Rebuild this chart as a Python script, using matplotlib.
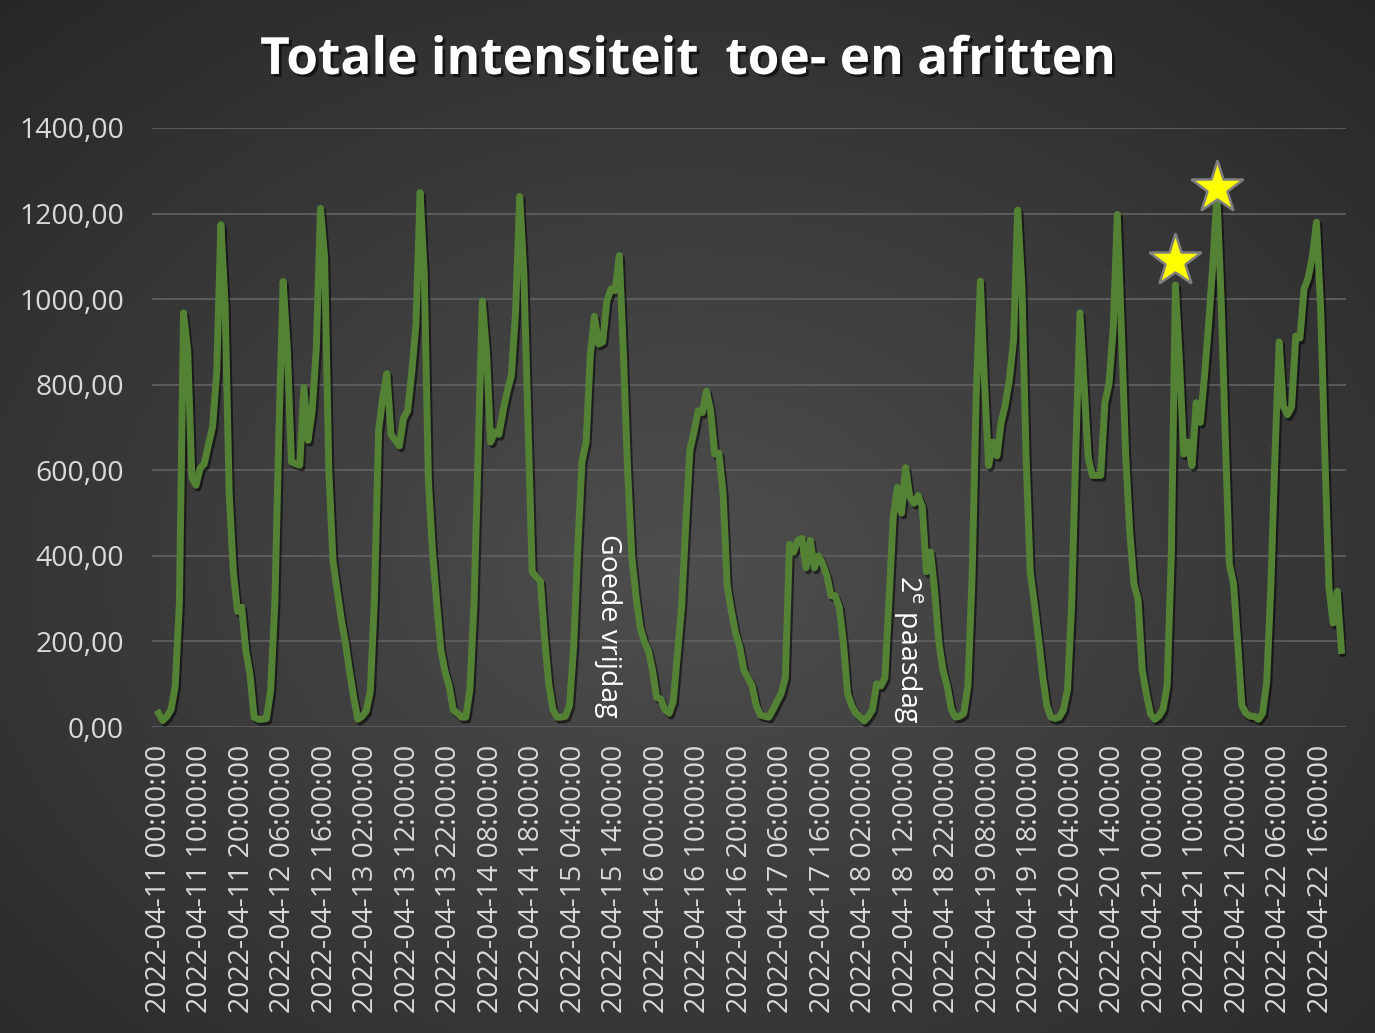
import numpy as np
import pandas as pd
import matplotlib
matplotlib.use("Agg")
import matplotlib.pyplot as plt
import matplotlib.patheffects as pe

plt.rcParams['font.family'] = ['Open Sans', 'DejaVu Sans']
plt.rcParams['mathtext.fontset'] = 'custom'
plt.rcParams['mathtext.rm'] = 'Open Sans'

apr11 = [32, 15, 25, 41, 96, 290, 968, 881, 583, 565, 605, 615, 660, 702, 830, 1174, 990, 546, 362, 270, 280, 179, 124, 23]
apr12 = [18, 18, 20, 87, 289, 700, 1041, 886, 620, 615, 612, 794, 670, 739, 886, 1212, 1097, 600, 390, 320, 252, 197, 130, 69]
apr13 = [18, 25, 37, 83, 300, 693, 770, 826, 684, 670, 657, 721, 739, 830, 941, 1249, 1060, 574, 409, 290, 180, 130, 96, 40]
apr14 = [32, 23, 23, 87, 289, 650, 996, 877, 666, 690, 684, 739, 785, 822, 969, 1240, 1060, 712, 363, 350, 340, 207, 100, 41]
apr15 = [23, 23, 25, 50, 188, 420, 620, 666, 868, 960, 895, 900, 996, 1024, 1020, 1102, 870, 600, 400, 307, 234, 200, 179, 133]
apr16 = [69, 65, 40, 32, 60, 170, 280, 470, 647, 690, 739, 735, 785, 739, 638, 640, 546, 330, 271, 220, 188, 133, 115, 96]
apr17 = [50, 28, 25, 23, 40, 60, 78, 115, 427, 409, 436, 441, 372, 436, 372, 400, 381, 354, 307, 307, 280, 197, 78, 50]
apr18 = [32, 23, 14, 25, 41, 101, 96, 115, 300, 491, 560, 500, 606, 537, 523, 541, 514, 363, 409, 317, 197, 133, 96, 41]
apr19 = [23, 25, 32, 96, 350, 776, 1042, 803, 611, 666, 634, 712, 753, 813, 905, 1208, 1033, 638, 363, 289, 207, 120, 50, 23]
apr20 = [20, 23, 40, 87, 289, 650, 968, 800, 629, 588, 588, 588, 758, 803, 930, 1198, 923, 638, 455, 335, 298, 133, 78, 30]
apr21 = [18, 25, 41, 96, 400, 1033, 850, 638, 666, 611, 758, 712, 820, 941, 1080, 1245, 1005, 684, 381, 335, 197, 50, 32, 25]
apr22 = [25, 18, 32, 106, 330, 640, 900, 750, 730, 748, 914, 909, 1024, 1050, 1100, 1180, 978, 638, 326, 243, 317, 179]

waarden = apr11 + apr12 + apr13 + apr14 + apr15 + apr16 + apr17 + apr18 + apr19 + apr20 + apr21 + apr22
tijden = pd.date_range('2022-04-11 00:00:00', periods=len(waarden), freq='h')

ster_idx = [245, 255]
ster_val = [1088, 1260]

fig = plt.figure(figsize=(13.75, 10.33), dpi=100)
fig.patch.set_facecolor('#2b2b2b')
fig.patch.set_edgecolor('white')
fig.patch.set_linewidth(3)

# achtergrond met radiale gradient
bg = fig.add_axes([0, 0, 1, 1], zorder=-5)
yy, xx = np.mgrid[0:1:400j, 0:1:530j]
r = np.sqrt(((xx - 0.5) / 0.75) ** 2 + ((yy - 0.55) / 0.75) ** 2)
bg.imshow(np.clip(r, 0, 1), cmap=matplotlib.colors.LinearSegmentedColormap.from_list('g', ['#4e4e4e', '#272727']),
          extent=[0, 1, 0, 1], aspect='auto', vmin=0, vmax=1)
bg.axis('off')

ax = fig.add_axes([152 / 1375, 1 - 727 / 1033, 1194 / 1375, 599 / 1033])
ax.set_facecolor('none')
x = np.arange(len(waarden))
ax.plot(x, waarden, color='#548235', lw=5, solid_joinstyle='round', zorder=3,
        path_effects=[pe.SimpleLineShadow(offset=(1.5, -2), shadow_color='black', alpha=0.55), pe.Normal()])

ax.plot(ster_idx, ster_val, linestyle='none', marker='*', markersize=40, color='#ffff00',
        markeredgecolor='#7f7f7f', markeredgewidth=1.8, zorder=5, clip_on=False)

ax.set_ylim(0, 1400)
ax.set_xlim(-1.6, 286.1)
ax.set_yticks(np.arange(0, 1401, 200))
ax.set_yticklabels([f'{v:.2f}'.replace('.', ',') for v in np.arange(0, 1401, 200)])
pos = np.arange(0, len(waarden), 10)
ax.set_xticks(pos)
ax.set_xticklabels([tijden[i].strftime('%Y-%m-%d %H:%M:%S') for i in pos], rotation=90)
ax.tick_params(axis='both', length=0, colors='#d9d9d9', labelsize=20.5)
ax.tick_params(axis='x', pad=13)
ax.tick_params(axis='y', pad=20)
ax.grid(axis='y', color='#5f5f5f', lw=1.3)
ax.set_axisbelow(True)
for s in ax.spines.values():
    s.set_visible(False)

ax.text(108.2, 236, 'Goede vrijdag', rotation=-90, ha='center', va='center', color='white', fontsize=20.5)
ax.text(180.5, 182, r'2$^{\mathrm{e}}$ paasdag', rotation=-90, ha='center', va='center', color='white', fontsize=20.5)

fig.text(0.5, 1 - 61 / 1033, 'Totale intensiteit  toe- en afritten', ha='center', va='center',
         color='white', fontsize=37, fontweight='bold',
         path_effects=[pe.withSimplePatchShadow(offset=(2, -2), shadow_rgbFace='black', alpha=0.6)])

fig.savefig('out.png', dpi=100, facecolor=fig.get_facecolor(), edgecolor=fig.get_edgecolor())
